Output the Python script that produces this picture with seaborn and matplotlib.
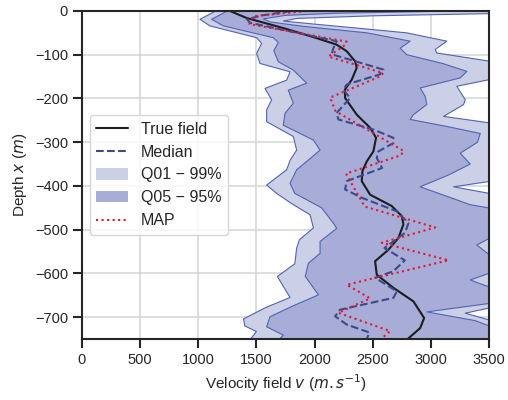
import numpy as np
import matplotlib
matplotlib.use('Agg')
import matplotlib.pyplot as plt
import seaborn as sns

# profils (profondeur en m, vitesse en m/s)
true_depth = [0, -16, -39, -62, -77, -92, -115, -130, -157, -180, -199, -237, -267, -290, -321,
              -344, -366, -389, -420, -446, -469, -488, -519, -546, -572, -603, -633, -664, -702,
              -725, -750]
true_vel = [1273, 1416, 1731, 2018, 2190, 2276, 2348, 2362, 2319, 2260, 2262, 2362, 2477, 2528, 2505,
            2448, 2411, 2405, 2477, 2663, 2749, 2763, 2720, 2634, 2520, 2534, 2677, 2849, 2941,
            2907, 2800]

median_depth = [0, -10, -19, -27, -50, -69, -85, -99, -134, -145, -168, -180, -199, -233, -248,
                -271, -290, -302, -321, -336, -359, -389, -408, -427, -458, -485, -507, -542, -570,
                -595, -610, -641, -656, -683, -698, -717, -735, -750]
median_vel = [1800, 1550, 1420, 1445, 1850, 2190, 2161, 2147, 2591, 2560, 2276, 2247, 2305, 2190, 2204,
              2505, 2677, 2677, 2548, 2534, 2580, 2276, 2262, 2405, 2706, 2806, 2778, 2600, 2775,
              2677, 2520, 2706, 2677, 2219, 2176, 2276, 2470, 2448]

map_depth = [0, -12, -30, -70, -80, -104, -142, -150, -198, -229, -320, -330, -372, -447, -495,
             -530, -570, -626, -657, -690, -732, -750]
map_vel = [1932, 1470, 1440, 2276, 2250, 2118, 2590, 2560, 2133, 2180, 2765, 2740, 2270, 2430, 3036,
           2577, 3150, 2276, 2477, 2204, 2649, 2570]

q01_depth = [0, -19, -34, -61, -74, -97, -120, -139, -158, -177, -203, -226, -253, -287, -318,
             -341, -363, -398, -417, -440, -466, -496, -523, -542, -578, -607, -655, -678, -704,
             -720, -733, -750]
q01_vel = [1150, 1015, 1100, 1502, 1545, 1502, 1531, 1789, 1760, 1574, 1631, 1588, 1588, 1817, 1846,
           1790, 1760, 1588, 1674, 1800, 1961, 1990, 1870, 1846, 1830, 1680, 1789, 1580, 1390,
           1400, 1500, 1450]

q05_depth = [0, -19, -34, -61, -72, -91, -116, -135, -165, -181, -211, -234, -261, -295, -318,
             -340, -363, -394, -417, -450, -485, -497, -527, -554, -577, -607, -649, -676, -699,
             -722, -741, -750]
q05_vel = [1250, 1115, 1216, 1645, 1688, 1650, 1688, 1817, 1932, 1774, 1817, 1746, 1731, 1989, 2047,
           1950, 1846, 1789, 1830, 2060, 2161, 2190, 2047, 2047, 1946, 1920, 2033, 1800, 1617,
           1588, 1731, 1700]

q95_depth = [0, -5, -10, -18, -25, -35, -50, -69, -85, -100, -120, -138, -153, -176, -195, -214,
             -237, -248, -264, -280, -300, -325, -350, -375, -402, -425, -443, -455, -470, -500,
             -513, -535, -568, -582, -595, -615, -636, -650, -668, -688, -708, -725, -750]
q95_vel = [3200, 2200, 1750, 1560, 1620, 1900, 2450, 2821, 2735, 2792, 3100, 3308, 3251, 2907, 2950, 2964,
           2849, 2821, 3136, 3423, 3400, 3251, 3337, 3150, 2907, 3150, 3337, 3600, 3700, 3700,
           3550, 3394, 3550, 3600, 3550, 3337, 3550, 3650, 3520, 2964, 3380, 3550, 3700]

q99_depth = [0, -6, -11, -17, -23, -30, -40, -50, -69, -88, -96, -115, -135, -157, -172, -203,
             -214, -241, -256, -300, -350, -389, -402, -418, -450, -550, -650, -678, -691, -708,
             -750]
q99_vel = [3700, 3500, 2500, 1850, 1731, 2000, 2400, 2792, 3136, 3036, 3050, 3509, 3750, 3500, 3222, 3294,
           3280, 3108, 3509, 3800, 3800, 3520, 3194, 3520, 3800, 3800, 3800, 3520, 3294, 3520,
           3800]

x_ticks = [0, 500, 1000, 1500, 2000, 2500, 3000, 3500]
y_ticks = [0, -100, -200, -300, -400, -500, -600, -700]

sns.set_style('ticks')
plt.rcParams['font.family'] = ['Liberation Sans', 'DejaVu Sans']
plt.rcParams['axes.unicode_minus'] = True

light = '#cbd0e6'
dark = '#a7add6'
edge = '#5163b3'

fig, ax = plt.subplots(figsize=(5.08, 4.0), dpi=100)
fig.subplots_adjust(left=0.161, right=0.963, top=0.9725, bottom=0.1525)

# bandes de quantiles
ax.fill(np.r_[q01_vel, q99_vel[::-1]], np.r_[q01_depth, q99_depth[::-1]],
        color=light, lw=0, label='Q01 − 99%')
ax.fill(np.r_[q05_vel, q95_vel[::-1]], np.r_[q05_depth, q95_depth[::-1]],
        color=dark, lw=0, label='Q05 − 95%')
for vv, dd in [(q01_vel, q01_depth), (q99_vel, q99_depth), (q05_vel, q05_depth), (q95_vel, q95_depth)]:
    ax.plot(vv, dd, color=edge, lw=0.8)

sns.lineplot(x=true_vel, y=true_depth, orient='y', sort=False, color='#1c1c1c', lw=1.5,
             label='True field', ax=ax)
sns.lineplot(x=median_vel, y=median_depth, orient='y', sort=False, color='#3b4a8a', lw=1.5,
             linestyle='--', label='Median', ax=ax)
sns.lineplot(x=map_vel, y=map_depth, orient='y', sort=False, color='#ea1430', lw=1.5,
             linestyle=':', label='MAP', ax=ax)

ax.set_xlim(0, 3500)
ax.set_ylim(-750, 0)
ax.set_xticks(x_ticks)
ax.set_yticks(y_ticks)
ax.grid(True, color='#d4d4d4', lw=1.1)
ax.set_axisbelow(True)
for s in ax.spines.values():
    s.set_visible(True)
    s.set_linewidth(1.5)
    s.set_color('#262626')
ax.tick_params(direction='out', length=6.5, width=1.5, labelsize=10.5, colors='#262626')

ax.set_xlabel(r'Velocity field $v$ ($m.s^{-1}$)', fontsize=11)
ax.set_ylabel(r'Depth $x$ ($m$)', fontsize=11)

h, l = ax.get_legend_handles_labels()
order = ['True field', 'Median', 'Q01 − 99%', 'Q05 − 95%', 'MAP']
hd = dict(zip(l, h))
ax.legend([hd[k] for k in order], order, loc='center left', fontsize=11.5)

plt.savefig('out.png', dpi=100)
